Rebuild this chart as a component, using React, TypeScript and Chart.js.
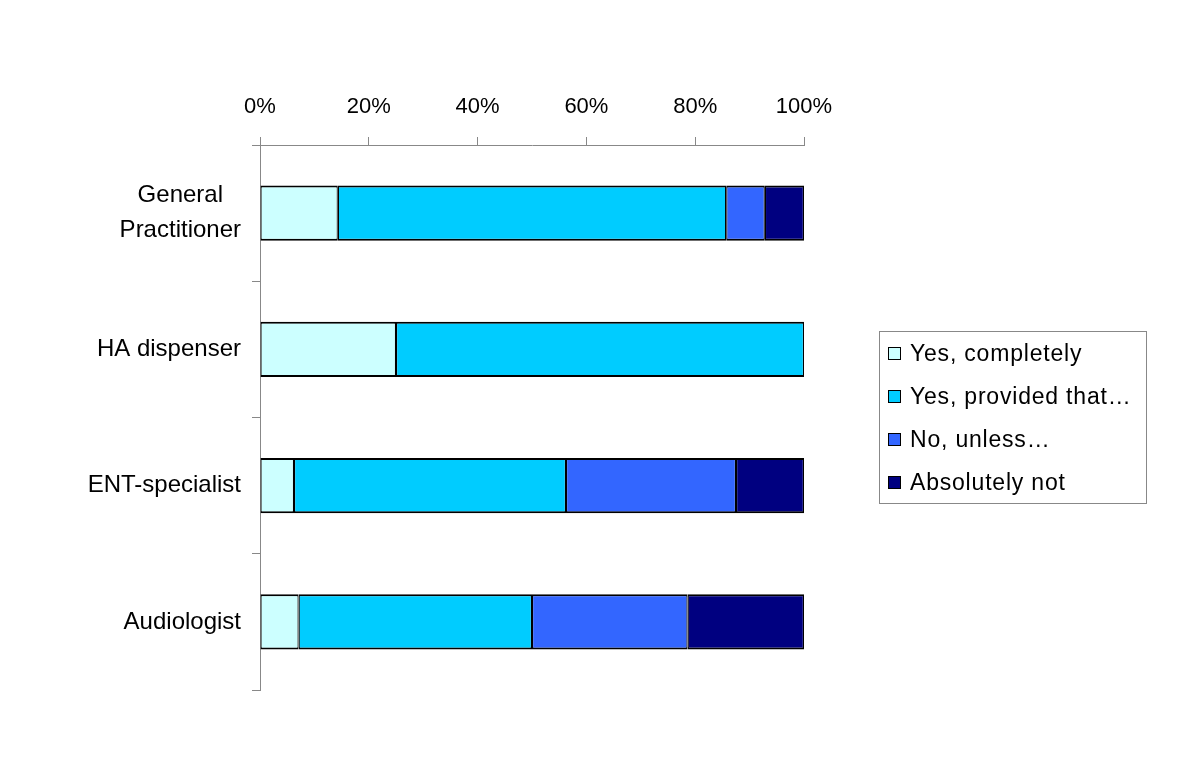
import React, { useEffect, useRef } from "react";
import { Chart, registerables } from "chart.js";

Chart.register(...registerables);

const categories: string[][] = [["General", "Practitioner"], ["HA dispenser"], ["ENT-specialist"], ["Audiologist"]];
const seriesNames = ["Yes, completely", "Yes, provided that…", "No, unless…", "Absolutely not"];
const seriesColors = ["#CCFFFF", "#00CCFF", "#3366FF", "#000080"];
const yesCompletely = [14.3, 25, 6.25, 7.1];
const yesProvided = [71.4, 75, 50, 42.9];
const noUnless = [7.1, 0, 31.25, 28.6];
const absolutelyNot = [7.2, 0, 12.5, 21.4];
const xTicks = [0, 20, 40, 60, 80, 100];

const FONT = "'Liberation Sans', Arial, sans-serif";

export default function App() {
  const ref = useRef<HTMLCanvasElement | null>(null);

  useEffect(() => {
    if (!ref.current) return;
    const values = [yesCompletely, yesProvided, noUnless, absolutelyNot];
    const labelPlugin = {
      id: "catLabels",
      afterDraw(chart: any) {
        const ctx = chart.ctx;
        const yScale = chart.scales.y;
        ctx.save();
        ctx.font = `24px ${FONT}`;
        ctx.fillStyle = "#000";
        ctx.textBaseline = "middle";
        ctx.textAlign = "center";
        categories.forEach((lines, i) => {
          const cy = yScale.getPixelForValue(i);
          const maxW = Math.max(...lines.map((l) => ctx.measureText(l).width));
          const cx = 241 - maxW / 2;
          const lh = 35;
          lines.forEach((l, j) => {
            const y = cy + (j - (lines.length - 1) / 2) * lh;
            ctx.fillText(l, cx, y);
          });
        });
        ctx.restore();
      },
    };

    const chart = new Chart(ref.current, {
      type: "bar",
      data: {
        labels: categories.map((c) => c.join(" ")),
        datasets: seriesNames.map((name, i) => ({
          label: name,
          data: values[i],
          backgroundColor: seriesColors[i],
          borderColor: "#000",
          borderWidth: { top: 2, bottom: 2, left: 1.2, right: 1.2 },
          borderSkipped: false,
          categoryPercentage: 1,
          barPercentage: 0.405,
        })),
      },
      options: {
        indexAxis: "y",
        animation: false,
        responsive: false,
        maintainAspectRatio: false,
        layout: { padding: { left: 0, top: 0, right: 396, bottom: 68 } },
        plugins: { legend: { display: false }, tooltip: { enabled: false } },
        scales: {
          x: {
            position: "top",
            stacked: true,
            min: 0,
            max: 100,
            afterBuildTicks: (scale: any) => {
              scale.ticks = xTicks.map((v) => ({ value: v }));
            },
            afterFit: (scale: any) => {
              scale.height = 145;
            },
            ticks: {
              callback: (v: any) => v + "%",
              font: { family: FONT, size: 22 },
              color: "#000",
              padding: 17,
              maxRotation: 0,
            },
            grid: { drawOnChartArea: false, tickLength: 8, color: "#888", lineWidth: 1 },
            border: { display: true, color: "#888", width: 1 },
          },
          y: {
            stacked: true,
            afterFit: (scale: any) => {
              scale.width = 260;
            },
            ticks: { display: false },
            grid: { offset: true, drawOnChartArea: false, tickLength: 8, color: "#888", lineWidth: 1 },
            border: { display: true, color: "#888", width: 1 },
          },
        },
      },
      plugins: [labelPlugin],
    } as any);
    return () => chart.destroy();
  }, []);

  return (
    <div style={{ position: "absolute", left: 0, top: 0, width: 1200, height: 758, background: "#fff" }}>
      <canvas ref={ref} width={1200} height={758} style={{ width: 1200, height: 758, display: "block" }} />
      <div
        style={{
          position: "absolute",
          left: 879,
          top: 331,
          width: 266,
          height: 171,
          border: "1px solid #888",
          boxSizing: "content-box",
          fontFamily: FONT,
          fontSize: 23,
          letterSpacing: "0.8px",
          color: "#000",
        }}
      >
        {seriesNames.map((name, i) => (
          <div
            key={name}
            style={{
              position: "absolute",
              left: 8,
              top: 21 + 43 * i - 14,
              height: 28,
              lineHeight: "28px",
              display: "flex",
              alignItems: "center",
              whiteSpace: "nowrap",
            }}
          >
            <span
              style={{
                display: "inline-block",
                width: 11,
                height: 11,
                background: seriesColors[i],
                border: "1.5px solid #000",
                marginRight: 9,
                flex: "none",
              }}
            />
            <span>{name}</span>
          </div>
        ))}
      </div>
    </div>
  );
}
